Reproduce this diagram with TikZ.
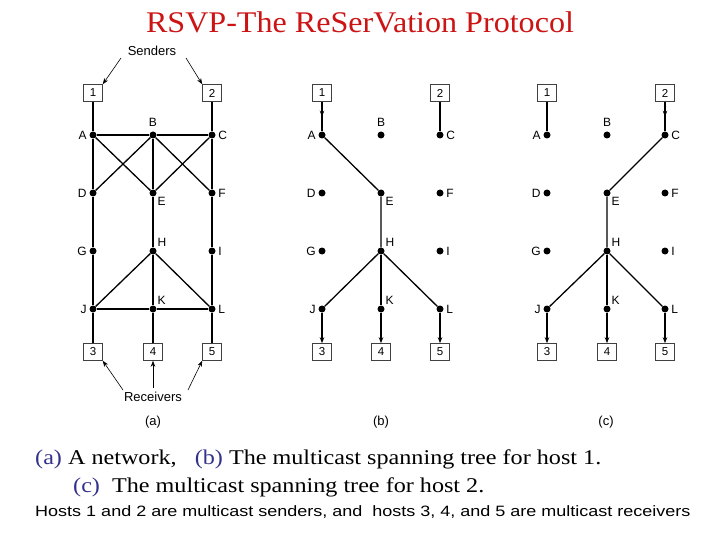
\documentclass[tikz,border=0pt]{standalone}
\usepackage{fontspec}
\setmainfont{Liberation Serif}
\newfontfamily\arial{Liberation Sans}
\usetikzlibrary{arrows.meta,calc}
\definecolor{titlered}{RGB}{204,20,20}
\definecolor{capblue}{RGB}{50,50,140}
\tikzset{
 dot/.style={circle,fill=black,inner sep=0pt,minimum size=7pt},
 hostbox/.style={draw=black!75,line width=0.6pt,minimum width=19pt,minimum height=17pt,inner sep=0pt,font=\arial\fontsize{11.5}{11.5}\selectfont},
 lbl/.style={font=\arial\fontsize{12}{12}\selectfont,inner sep=1pt},
 biglbl/.style={font=\arial\fontsize{13}{13}\selectfont,inner sep=1pt},
 edge/.style={line width=1.3pt},
 thk/.style={line width=1.9pt},
 tip/.style={-{Stealth[length=6pt,width=4.5pt]}},
}
\newcommand\mypanel[4]{%
 \node[hostbox] (#1h1) at (#2,93) {1};
 \node[hostbox] (#1h2) at (#4,93) {2};
 \node[hostbox] (#1h3) at (#2,352) {3};
 \node[hostbox] (#1h4) at (#3,352) {4};
 \node[hostbox] (#1h5) at (#4,352) {5};
 \node[dot,label={[lbl,label distance=1.5pt]left:A}] (#1A) at (#2,135) {};
 \node[dot,label={[lbl,label distance=3.5pt]above:B}] (#1B) at (#3,135) {};
 \node[dot,label={[lbl,label distance=1.5pt]right:C}] (#1C) at (#4,135) {};
 \node[dot,label={[lbl,label distance=1.5pt]left:D}] (#1D) at (#2,193) {};
 \node[dot,label={[lbl,label distance=1pt]-45:E}] (#1E) at (#3,193) {};
 \node[dot,label={[lbl,label distance=1.5pt]right:F}] (#1F) at (#4,193) {};
 \node[dot,label={[lbl,label distance=1.5pt]left:G}] (#1G) at (#2,251) {};
 \node[dot,label={[lbl,label distance=1pt]45:H}] (#1H) at (#3,251) {};
 \node[dot,label={[lbl,label distance=1.5pt]right:I}] (#1I) at (#4,251) {};
 \node[dot,label={[lbl,label distance=1.5pt]left:J}] (#1J) at (#2,309) {};
 \node[dot,label={[lbl,label distance=1pt]45:K}] (#1K) at (#3,309) {};
 \node[dot,label={[lbl,label distance=1.5pt]right:L}] (#1L) at (#4,309) {};
}
\begin{document}
\begin{tikzpicture}[x=1pt,y=-1pt]
\useasboundingbox[fill=white] (0,0) rectangle (720,540);
\node[text=titlered,font=\fontsize{30}{30}\selectfont,xscale=1.07] (title) at (360,22) {RSVP-The ReSerVation Protocol};
% panel (a)
\mypanel{a}{93}{153}{212}
\draw[thk] (ah1) -- (aA) -- (aD) -- (aG) -- (aJ) -- (ah3);
\draw[edge] (ah2) -- (aC) -- (aF) -- (aI) -- (aL) -- (ah5);
\draw[edge] (aB) -- (aE) -- (aH) -- (aK) -- (ah4);
\draw[edge] (aA) -- (aB) -- (aC);
\draw[edge] (aA) -- (aE) -- (aC);
\draw[edge] (aD) -- (aB) -- (aF);
\draw[edge] (aJ) -- (aH) -- (aL);
\draw[edge] (aJ) -- (aK) -- (aL);
\node[biglbl] (snd) at (152,51) {Senders};
\coordinate (s1) at (121,58);
\coordinate (s2) at (186,58);
\draw[line width=0.6pt,tip] (s1) -- (ah1.north east);
\draw[line width=0.6pt,tip] (s2) -- (ah2.north west);
\node[biglbl] (rcv) at (153,397) {Receivers};
\coordinate (r1) at (123,390);
\coordinate (r2) at (153,388);
\coordinate (r3) at (188,390);
\draw[line width=0.6pt,tip] (r1) -- (ah3.south east);
\draw[line width=0.6pt,tip] (r2) -- (ah4.south);
\draw[line width=0.6pt,tip] (r3) -- (ah5.south west);
\node[biglbl] (la) at (153,422) {(a)};
% panel (b)
\mypanel{b}{322}{381}{440}
\draw[thk] (bh1) -- (bA);
\draw[thk,tip] (bh1) -- ($(bh1.south)!0.45!(bA.center)$);
\draw[edge] (bh2) -- (bC);
\draw[edge] (bA) -- (bE) -- (bH);
\draw[edge] (bH) -- (bJ);
\draw[edge] (bH) -- (bK);
\draw[edge] (bH) -- (bL);
\draw[thk,tip] (bJ) -- (bh3);
\draw[edge,tip] (bK) -- (bh4);
\draw[edge,tip] (bL) -- (bh5);
\node[biglbl] (lb) at (381,422) {(b)};
% panel (c)
\mypanel{c}{547}{607}{665}
\draw[edge] (ch1) -- (cA);
\draw[thk] (ch2) -- (cC);
\draw[thk,tip] (ch2) -- ($(ch2.south)!0.45!(cC.center)$);
\draw[edge] (cC) -- (cE) -- (cH);
\draw[edge] (cH) -- (cJ);
\draw[edge] (cH) -- (cK);
\draw[edge] (cH) -- (cL);
\draw[thk,tip] (cJ) -- (ch3);
\draw[thk,tip] (cK) -- (ch4);
\draw[thk,tip] (cL) -- (ch5);
\node[biglbl] (lc) at (606,422) {(c)};
% captions
\node[anchor=base west,inner sep=0pt,font=\fontsize{21}{21}\selectfont,xscale=1.15] (cap1) at (35,464) {\textcolor{capblue}{(a)} A network,\ \ \ \textcolor{capblue}{(b)} The multicast spanning tree for host 1.};
\node[anchor=base west,inner sep=0pt,font=\fontsize{21}{21}\selectfont,xscale=1.15] (cap2) at (73,492) {\textcolor{capblue}{(c)}\ \ The multicast spanning tree for host 2.};
\node[anchor=base west,inner sep=0pt,font=\arial\fontsize{15}{15}\selectfont,xscale=1.2] (cap3) at (35,516) {Hosts 1 and 2 are multicast senders, and\ \ hosts 3, 4, and 5 are multicast receivers};
\end{tikzpicture}
\end{document}
